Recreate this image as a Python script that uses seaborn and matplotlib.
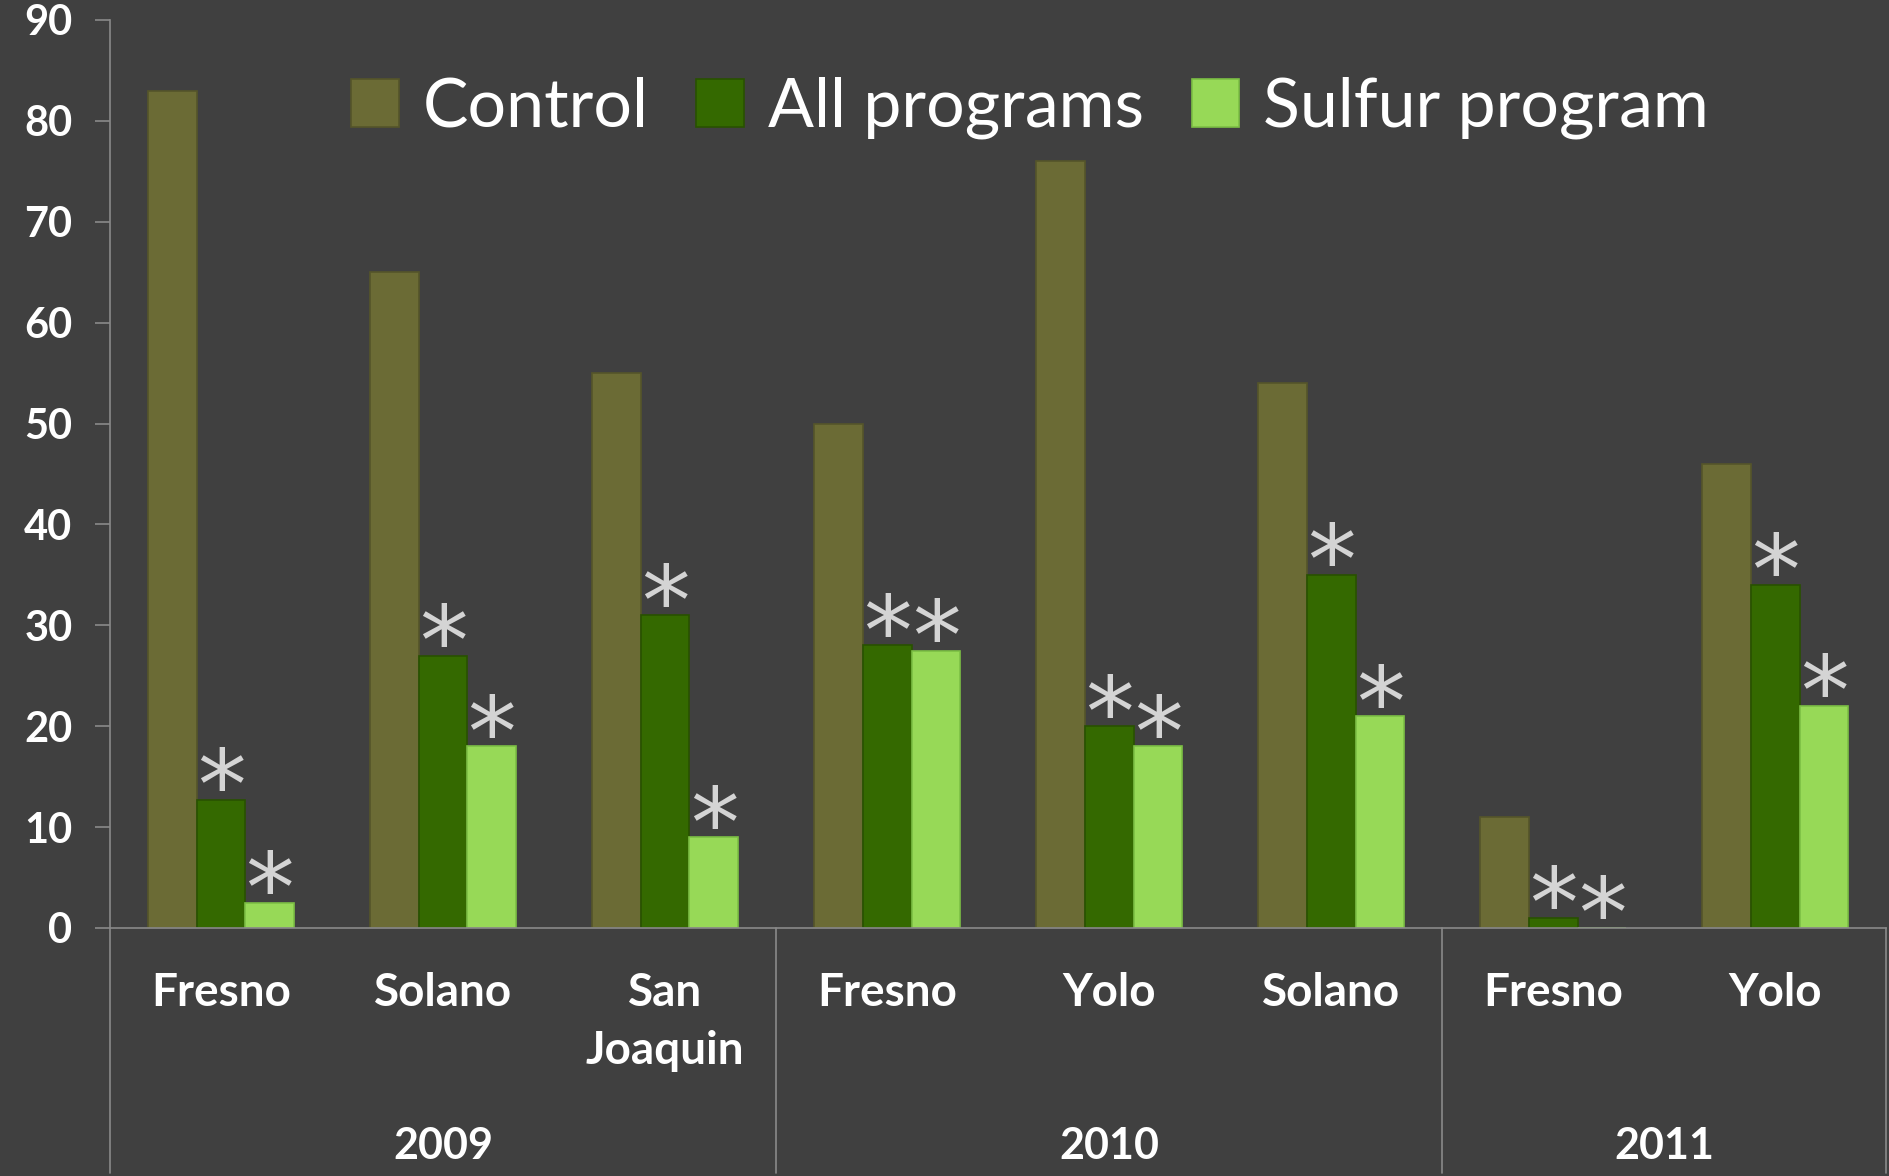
import numpy as np
import pandas as pd
import matplotlib
matplotlib.use('Agg')
import matplotlib.pyplot as plt
import seaborn as sns

# Data
years = ['2009', '2009', '2009', '2010', '2010', '2010', '2011', '2011']
sites = ['Fresno', 'Solano', 'San\nJoaquin', 'Fresno', 'Yolo', 'Solano', 'Fresno', 'Yolo']
control = [83, 65, 55, 50, 76, 54, 11, 46]
all_programs = [12.7, 27, 31, 28, 20, 35, 1, 34]
sulfur_program = [2.5, 18, 9, 27.5, 18, 21, 0, 22]
# significance asterisks per series
all_sig = [True, True, True, True, True, True, True, True]
sulfur_sig = [True, True, True, True, True, True, True, True]
series_names = ['Control', 'All programs', 'Sulfur program']
yticks = [0, 10, 20, 30, 40, 50, 60, 70, 80, 90]

bg = '#404040'
line_col = '#8a8a8a'
colors = ['#6b6b35', '#346900', '#97d957']
edge_colors = ['#55552a', '#285200', '#7cbf44']

keys = [f'{y} {s}' for y, s in zip(years, sites)]
df = pd.DataFrame({
    'key': keys * 3,
    'series': np.repeat(series_names, len(keys)),
    'value': control + all_programs + sulfur_program,
})

sns.set_theme(style='white')
plt.rcParams['font.family'] = ['Lato', 'DejaVu Sans']

fig = plt.figure(figsize=(18.9, 11.76), dpi=100, facecolor=bg)
ax = fig.add_axes([0.0582, 0.2109, 0.998 - 0.0582, 0.983 - 0.2109])
ax.set_facecolor(bg)

sns.barplot(data=df, x='key', y='value', hue='series', order=keys,
            hue_order=series_names, palette=colors, width=0.66, gap=0,
            saturation=1, ax=ax, legend=False)

for cont, ec in zip(ax.containers, edge_colors):
    for bar in cont:
        bar.set_edgecolor(ec)
        bar.set_linewidth(1.2)

# asterisks above significant bars
for cont, sig in zip(ax.containers[1:], [all_sig, sulfur_sig]):
    for bar, s in zip(cont, sig):
        if not s:
            continue
        xc = bar.get_x() + bar.get_width() / 2
        ax.annotate('*', (xc, bar.get_height()), xytext=(0, -14),
                    textcoords='offset points', ha='center', va='baseline',
                    fontsize=70, color='#d4d4d4', family='DejaVu Sans')

ax.set_xlim(-0.5, len(keys) - 0.5)
ax.set_ylim(0, 90)
ax.set_yticks(yticks)
ax.set_yticklabels([str(t) for t in yticks], fontsize=30, fontweight='bold', color='white')
ax.set_xticks(range(len(keys)))
ax.set_xticklabels(sites, fontsize=33, fontweight='bold', color='white', linespacing=1.45)
ax.tick_params(axis='y', direction='out', length=11, width=1.2, color=line_col, pad=16, left=True)
ax.tick_params(axis='x', length=0, pad=32)
ax.set_xlabel('')
ax.set_ylabel('')

for side in ['top', 'right']:
    ax.spines[side].set_visible(False)
for side in ['left', 'bottom']:
    ax.spines[side].set_color(line_col)
    ax.spines[side].set_linewidth(1.2)

# group separators extending below the axis
trans = ax.get_xaxis_transform()
for xb in [-0.5, 2.5, 5.5, 7.5]:
    ax.plot([xb, xb], [0, -0.27], transform=trans, color=line_col, lw=1.2, clip_on=False)

# year labels
for yr in ['2009', '2010', '2011']:
    idx = [i for i, y in enumerate(years) if y == yr]
    ax.text(np.mean(idx), -0.24, yr, transform=trans, ha='center', va='center',
            fontsize=31, fontweight='bold', color='white')

handles = [plt.Rectangle((0, 0), 1, 1, facecolor=c, edgecolor=e, lw=1.2)
           for c, e in zip(colors, edge_colors)]
leg = ax.legend(handles, series_names, loc='center', bbox_to_anchor=(0.518, 0.903),
                ncol=3, frameon=False, fontsize=49, handlelength=0.7, handleheight=0.7,
                handletextpad=0.35, columnspacing=0.7, labelcolor='white')

fig.savefig('out.png', dpi=100, facecolor=bg)
